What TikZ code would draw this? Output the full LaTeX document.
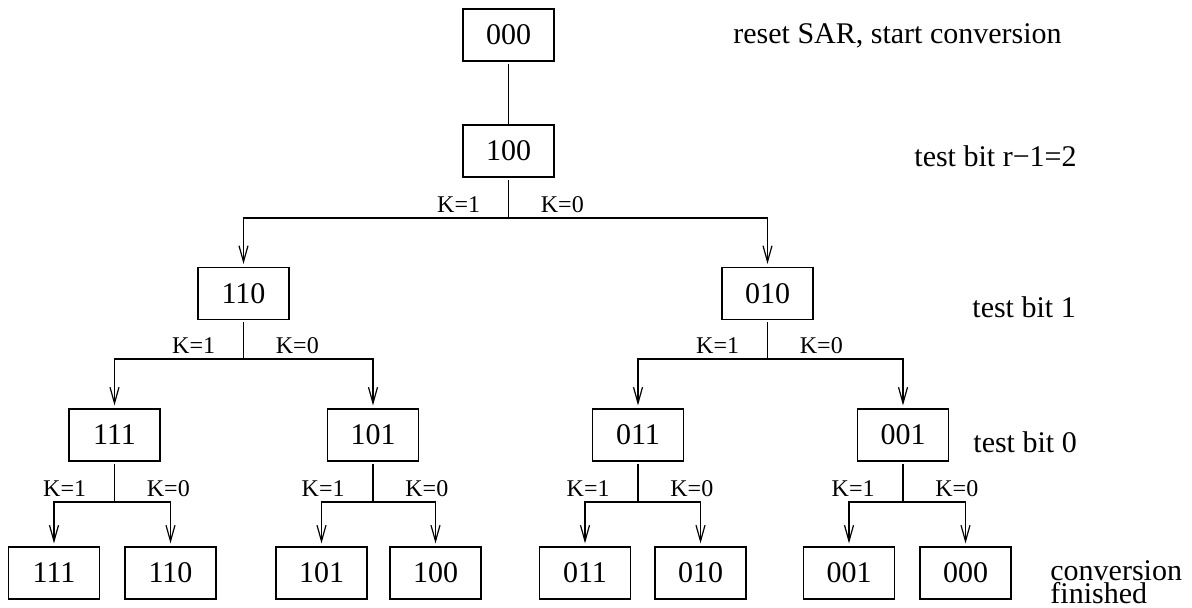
\documentclass[tikz,border=0pt]{standalone}
\usepackage{fontspec}
\setmainfont{Liberation Serif}
\usetikzlibrary{arrows.meta}

\begin{document}
\begin{tikzpicture}[x=0.5pt, y=-0.5pt,
    state/.style={draw, line width=0.6pt, minimum width=45.5pt, minimum height=26pt, inner sep=0pt, font=\fontsize{15}{18}\selectfont},
    kval/.style={inner sep=0pt, font=\fontsize{12}{14}\selectfont},
    note/.style={inner sep=0pt, anchor=base west, font=\fontsize{15}{18}\selectfont},
    wire/.style={line width=0.6pt, shorten <=1pt},
    branch/.style={line width=0.6pt, -{Straight Barb[length=8pt, width=4.5pt]}, shorten >=1.5pt}]
    \useasboundingbox (0,0) rectangle (1192,607);

    % Register states, one row per tested bit
    \node[state] (s000) at (508.5,35) {000};
    \node[state] (s100) at (508.5,151) {100};
    \node[state] (s110) at (243.5,293.5) {110};
    \node[state] (s010) at (767.5,293.5) {010};
    \node[state] (s111) at (114.5,435) {111};
    \node[state] (s101) at (373,435) {101};
    \node[state] (s011) at (638,435) {011};
    \node[state] (s001) at (903,435) {001};

    % Final results
    \node[state] (e111) at (54,573) {111};
    \node[state] (e110) at (170.5,573) {110};
    \node[state] (e101) at (321.5,573) {101};
    \node[state] (e100) at (435.5,573) {100};
    \node[state] (e011) at (585,573) {011};
    \node[state] (e010) at (700.5,573) {010};
    \node[state] (e001) at (849,573) {001};
    \node[state] (e000) at (965.5,573) {000};

    % Branch points
    \coordinate (j100) at (508.5,218);
    \coordinate (j110) at (243.5,359);
    \coordinate (j010) at (767.5,359);
    \coordinate (j111) at (114.5,502);
    \coordinate (j101) at (373,502);
    \coordinate (j011) at (638,502);
    \coordinate (j001) at (903,502);

    % Connections
    \draw[wire] (s000) -- (s100);
    \draw[wire] (s100) -- (j100);
    \draw[branch] (j100) -| (s110);
    \draw[branch] (j100) -| (s010);

    \draw[wire] (s110) -- (j110);
    \draw[branch] (j110) -| (s111);
    \draw[branch] (j110) -| (s101);
    \draw[wire] (s010) -- (j010);
    \draw[branch] (j010) -| (s011);
    \draw[branch] (j010) -| (s001);

    \draw[wire] (s111) -- (j111);
    \draw[branch] (j111) -| (e111);
    \draw[branch] (j111) -| (e110);
    \draw[wire] (s101) -- (j101);
    \draw[branch] (j101) -| (e101);
    \draw[branch] (j101) -| (e100);
    \draw[wire] (s011) -- (j011);
    \draw[branch] (j011) -| (e011);
    \draw[branch] (j011) -| (e010);
    \draw[wire] (s001) -- (j001);
    \draw[branch] (j001) -| (e001);
    \draw[branch] (j001) -| (e000);

    % Comparator outcome on each side of a branch
    \node[kval, anchor=base east] (k1j100) at ([xshift=-14pt, yshift=3pt]j100) {K=1};
    \node[kval, anchor=base west] (k0j100) at ([xshift=16pt, yshift=3pt]j100) {K=0};
    \node[kval, anchor=base east] (k1j110) at ([xshift=-14pt, yshift=3pt]j110) {K=1};
    \node[kval, anchor=base west] (k0j110) at ([xshift=16pt, yshift=3pt]j110) {K=0};
    \node[kval, anchor=base east] (k1j010) at ([xshift=-14pt, yshift=3pt]j010) {K=1};
    \node[kval, anchor=base west] (k0j010) at ([xshift=16pt, yshift=3pt]j010) {K=0};
    \node[kval, anchor=base east] (k1j111) at ([xshift=-14pt, yshift=3pt]j111) {K=1};
    \node[kval, anchor=base west] (k0j111) at ([xshift=16pt, yshift=3pt]j111) {K=0};
    \node[kval, anchor=base east] (k1j101) at ([xshift=-14pt, yshift=3pt]j101) {K=1};
    \node[kval, anchor=base west] (k0j101) at ([xshift=16pt, yshift=3pt]j101) {K=0};
    \node[kval, anchor=base east] (k1j011) at ([xshift=-14pt, yshift=3pt]j011) {K=1};
    \node[kval, anchor=base west] (k0j011) at ([xshift=16pt, yshift=3pt]j011) {K=0};
    \node[kval, anchor=base east] (k1j001) at ([xshift=-14pt, yshift=3pt]j001) {K=1};
    \node[kval, anchor=base west] (k0j001) at ([xshift=16pt, yshift=3pt]j001) {K=0};

    % Step descriptions on the right
    \node[note] (n0) at (733,43) {reset SAR, start conversion};
    \node[note] (n1) at (914,166) {test bit r−1=2};
    \node[note] (n2) at (972,317) {test bit 1};
    \node[note] (n3) at (973,452) {test bit 0};
    \node[note] (n4) at (1050,580) {conversion};
    \node[note] (n5) at ([yshift=-11.5pt]n4.base west) {finished};
\end{tikzpicture}
\end{document}
